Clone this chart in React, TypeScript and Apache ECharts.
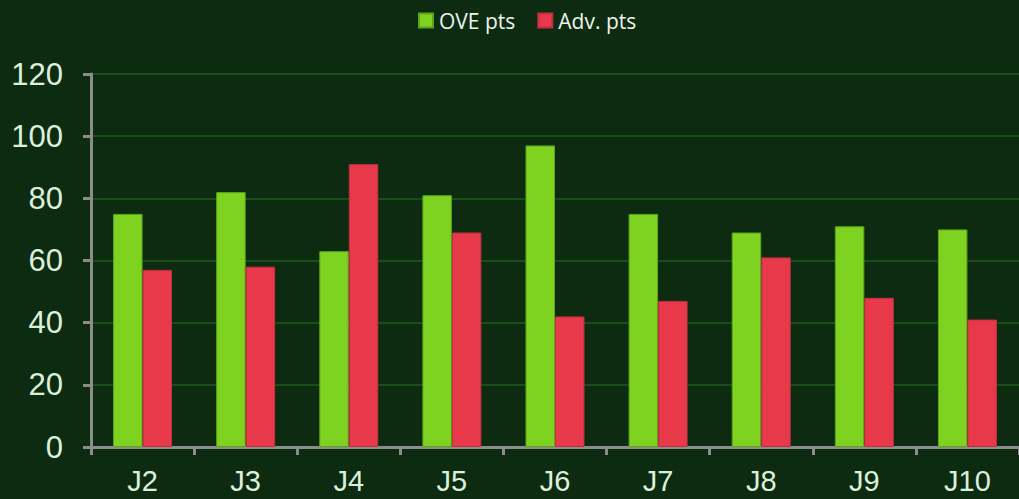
import React, { useEffect, useRef } from "react";
import * as echarts from "echarts";

const categories = ["J2", "J3", "J4", "J5", "J6", "J7", "J8", "J9", "J10"];
const ovePts = [75, 82, 63, 81, 97, 75, 69, 71, 70];
const advPts = [57, 58, 91, 69, 42, 47, 61, 48, 41];
const yTicks = { min: 0, max: 120, interval: 20 };

export default function App() {
  const ref = useRef<HTMLDivElement>(null);
  useEffect(() => {
    document.body.style.margin = "0";
    document.body.style.background = "#0d2b10";
    const chart = echarts.init(ref.current!, null, { renderer: "svg" });
    chart.setOption({
      animation: false,
      backgroundColor: "#0d2b10",
      legend: {
        top: 5,
        left: 413,
        itemWidth: 14,
        itemHeight: 14,
        itemGap: 22,
        icon: "rect",
        textStyle: { color: "#eef2ee", fontSize: 21, fontFamily: "Open Sans", padding: [0, 0, 0, 1] },
        data: ["OVE pts", "Adv. pts"],
      },
      grid: { left: 91, right: 0, top: 74, bottom: 52, containLabel: false },
      xAxis: {
        type: "category",
        data: categories,
        axisLine: { lineStyle: { color: "#8c8c8c", width: 3 } },
        axisTick: { show: true, length: 8, lineStyle: { color: "#8c8c8c", width: 3 } },
        axisLabel: {
          color: "#dcefdc",
          fontSize: 29,
          lineHeight: 26,
          fontFamily: "Liberation Sans",
          margin: 21,
        },
        splitLine: { show: false },
      },
      yAxis: {
        type: "value",
        min: yTicks.min,
        max: yTicks.max,
        interval: yTicks.interval,
        axisLine: { show: true, lineStyle: { color: "#8c8c8c", width: 3 } },
        axisTick: { show: true, length: 8, lineStyle: { color: "#8c8c8c", width: 3 } },
        axisLabel: { color: "#dcefdc", fontSize: 31, fontFamily: "Liberation Sans", margin: 28 },
        splitLine: { show: true, lineStyle: { color: "#1e5a1e", width: 1.5 } },
      },
      series: [
        {
          name: "OVE pts",
          type: "bar",
          data: ovePts,
          barWidth: "28.6%",
          barGap: "0%",
          itemStyle: { color: "#7ed321", borderColor: "#5fa51a", borderWidth: 1 },
        },
        {
          name: "Adv. pts",
          type: "bar",
          data: advPts,
          barWidth: "28.6%",
          itemStyle: { color: "#e8394a", borderColor: "#c23040", borderWidth: 1 },
        },
      ],
    });
    return () => chart.dispose();
  }, []);
  return <div ref={ref} style={{ width: 1019, height: 499 }} />;
}
